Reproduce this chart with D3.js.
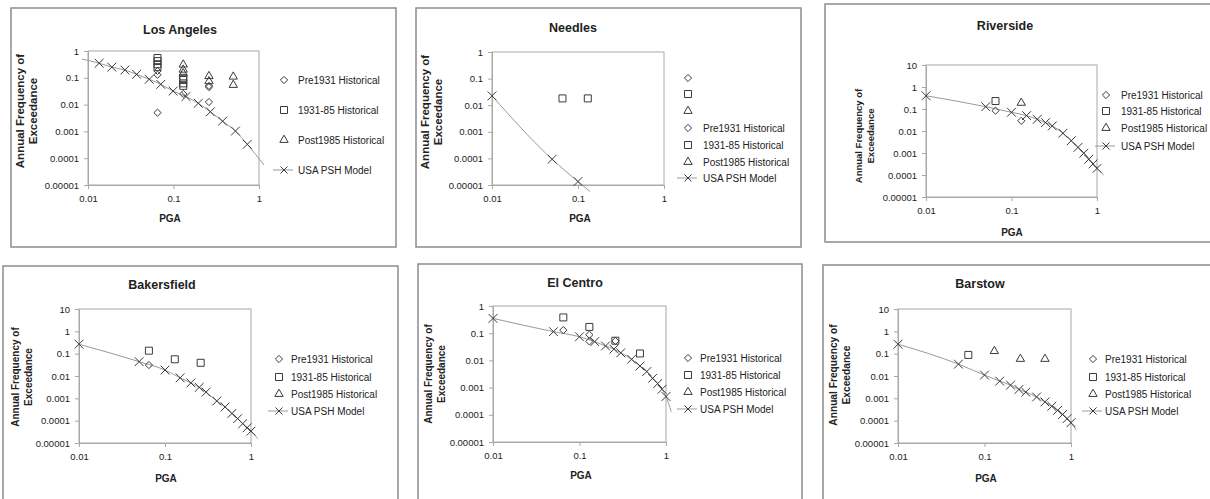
<!DOCTYPE html>
<html>
<head>
<meta charset="utf-8">
<script src="https://cdn.jsdelivr.net/npm/d3@7"></script>
<style>
  body { margin: 0; background: #fff; }
  text { font-family: "Liberation Sans", Arial, sans-serif; fill: #222; }
</style>
</head>
<body>
<svg id="chart" width="1210" height="499"></svg>
<script>
// tick values + labels (log axes)
var xTicks = [0.01, 0.1, 1];
var xTickLabels = ["0.01", "0.1", "1"];
var yTicks = [0.00001, 0.0001, 0.001, 0.01, 0.1, 1, 10];
var yTickLabels = ["0.00001", "0.0001", "0.001", "0.01", "0.1", "1", "10"];

var seriesNames = ["Pre1931 Historical", "1931-85 Historical", "Post1985 Historical", "USA PSH Model"];

// PGA grid of the PSH model (all cities but LA and Needles)
var modelPGA = [0.01, 0.05, 0.1, 0.15, 0.2, 0.25, 0.3, 0.4, 0.5, 0.6, 0.7, 0.8, 0.9, 1.0];

// Los Angeles
var laModelPGA = [0.0135, 0.019, 0.027, 0.037, 0.052, 0.071, 0.099, 0.14, 0.195, 0.27, 0.375, 0.53, 0.73];
var laModelFreq = [0.35, 0.25, 0.195, 0.135, 0.088, 0.057, 0.032, 0.02, 0.0112, 0.0054, 0.0024, 0.00103, 0.00033];
var laLineStart = [0.0085, 0.5];
var laLineEnd = [1.14, 0.000056];
var laPre1931 = [[0.065, 0.18], [0.065, 0.13], [0.065, 0.005], [0.13, 0.025], [0.26, 0.05], [0.26, 0.045], [0.26, 0.0125]];
var la1931 = [[0.065, 0.55], [0.065, 0.42], [0.065, 0.32], [0.065, 0.25], [0.13, 0.1], [0.13, 0.083], [0.13, 0.062], [0.13, 0.05]];
var laPost1985 = [[0.13, 0.31], [0.13, 0.2], [0.13, 0.147], [0.26, 0.115], [0.26, 0.074], [0.5, 0.11], [0.5, 0.054]];

// Needles
var ndModelPGA = [0.01, 0.05, 0.1];
var ndModelFreq = [0.0225, 0.000093, 0.0000135];
var ndLineEnd = [0.138, 0.0000057];
var nd1931 = [[0.066, 0.018], [0.13, 0.018]];

// Riverside
var rvModelFreq = [0.40, 0.127, 0.071, 0.050, 0.034, 0.024, 0.017, 0.0079, 0.0036, 0.0018, 0.00098, 0.00052, 0.00032, 0.0002];
var rvLineEnd = [1.2, 0.0001];
var rvPre1931 = [[0.065, 0.084], [0.13, 0.029]];
var rv1931 = [[0.065, 0.23]];
var rvPost1985 = [[0.13, 0.19]];

// Bakersfield
var bkModelFreq = [0.265, 0.044, 0.0185, 0.0083, 0.0049, 0.0031, 0.0019, 0.00076, 0.00041, 0.00021, 0.000124, 0.000073, 0.000048, 0.000034];
var bkLineEnd = [1.2, 0.0000155];
var bkPre1931 = [[0.065, 0.031]];
var bk1931 = [[0.065, 0.136], [0.13, 0.056], [0.26, 0.039]];

// El Centro
var ecModelFreq = [0.35, 0.114, 0.074, 0.049, 0.034, 0.026, 0.019, 0.011, 0.0062, 0.0039, 0.0022, 0.0014, 0.00087, 0.00047];
var ecLineEnd = [1.15, 0.00013];
var ecPre1931 = [[0.065, 0.13], [0.13, 0.088], [0.13, 0.05], [0.26, 0.052]];
var ec1931 = [[0.065, 0.38], [0.13, 0.17], [0.26, 0.053], [0.5, 0.018]];

// Barstow
var bsModelFreq = [0.265, 0.034, 0.011, 0.0059, 0.0039, 0.0025, 0.0019, 0.00115, 0.00069, 0.00044, 0.00029, 0.00019, 0.000123, 0.000081];
var bsLineEnd = [1.15, 0.000037];
var bs1931 = [[0.065, 0.088]];
var bsPost1985 = [[0.13, 0.13], [0.26, 0.058], [0.5, 0.058]];

function zipModel(pga, freq) {
  return pga.map(function(p, i) { return [p, freq[i]]; });
}

// layout of the 6 panels (box = outer frame, plot = plot area)
var panels = [
  { name: "Los Angeles", box: [11, 8, 396, 247], plot: [88, 51, 259, 185], yMax: 1,
    titleX: 180, titleY: 30, pgaX: 170, pgaY: 218,
    yt: [20, 33, 111, 11.5],
    legend: { mx: 284, tx: 298, rows: [80, 110, 140, 170] },
    pre: laPre1931, mid: la1931, post: laPost1985,
    model: zipModel(laModelPGA, laModelFreq), start: laLineStart, end: laLineEnd },
  { name: "Needles", box: [416, 8, 801, 247], plot: [492, 52, 664, 185], yMax: 1,
    titleX: 573, titleY: 28, pgaX: 580, pgaY: 218,
    yt: [425, 438, 112, 11.5],
    legend: { mx: 688, tx: 703, rows: [78, 94, 111, 128, 145, 162, 178], blanks: 3 },
    pre: [], mid: nd1931, post: [],
    model: zipModel(ndModelPGA, ndModelFreq), start: null, end: ndLineEnd },
  { name: "Riverside", box: [825, 4, 1216, 242], plot: [926, 65, 1097, 197], yMax: 10,
    titleX: 1005, titleY: 26, pgaX: 1012, pgaY: 232,
    yt: [858, 870, 136, 9.5],
    legend: { mx: 1106, tx: 1121, rows: [95, 111, 128, 146] },
    pre: rvPre1931, mid: rv1931, post: rvPost1985,
    model: zipModel(modelPGA, rvModelFreq), start: null, end: rvLineEnd },
  { name: "Bakersfield", box: [3, 266, 398, 510], plot: [79, 309, 251, 443], yMax: 10,
    titleX: 162, titleY: 285, pgaX: 166, pgaY: 478,
    yt: [15, 28, 377, 10],
    legend: { mx: 279, tx: 291, rows: [359, 377, 394, 411] },
    pre: bkPre1931, mid: bk1931, post: [],
    model: zipModel(modelPGA, bkModelFreq), start: null, end: bkLineEnd },
  { name: "El Centro", box: [418, 264, 802, 510], plot: [493, 306, 666, 442], yMax: 1,
    titleX: 575, titleY: 283, pgaX: 581, pgaY: 475,
    yt: [428, 441, 374, 10],
    legend: { mx: 688, tx: 700, rows: [358, 375, 392, 409] },
    pre: ecPre1931, mid: ec1931, post: [],
    model: zipModel(modelPGA, ecModelFreq), start: null, end: ecLineEnd },
  { name: "Barstow", box: [823, 265, 1216, 510], plot: [898, 309, 1071, 443], yMax: 10,
    titleX: 980, titleY: 284, pgaX: 986, pgaY: 478,
    yt: [833, 846, 375, 10.2],
    legend: { mx: 1093, tx: 1105, rows: [359, 377, 394, 411] },
    pre: [], mid: bs1931, post: bsPost1985,
    model: zipModel(modelPGA, bsModelFreq), start: null, end: bsLineEnd }
];

var markerColor = "#3a3a3a";
var lineColor = "#9a9a9a";
var symDiamond = d3.symbol().type(d3.symbolDiamond2).size(33);
var symSquare = d3.symbol().type(d3.symbolSquare2).size(62);
var symTriangle = d3.symbol().type(d3.symbolTriangle2).size(50);
var symTimes = d3.symbol().type(d3.symbolTimes).size(52);
var symbols = [symDiamond, symSquare, symTriangle];

var svg = d3.select("#chart");

panels.forEach(function(p) {
  var g = svg.append("g");

  // outer frame
  g.append("rect")
    .attr("x", p.box[0]).attr("y", p.box[1])
    .attr("width", p.box[2] - p.box[0]).attr("height", p.box[3] - p.box[1])
    .attr("fill", "#fff").attr("stroke", "#8c8c8c").attr("stroke-width", 1.5);

  var x = d3.scaleLog().domain([0.01, 1]).range([p.plot[0], p.plot[2]]);
  var y = d3.scaleLog().domain([0.00001, p.yMax]).range([p.plot[3], p.plot[1]]);
  var yVals = yTicks.filter(function(v) { return v <= p.yMax * 1.0001; });

  // plot area border
  g.append("rect")
    .attr("x", p.plot[0]).attr("y", p.plot[1])
    .attr("width", p.plot[2] - p.plot[0]).attr("height", p.plot[3] - p.plot[1])
    .attr("fill", "none").attr("stroke", "#a8a8a8").attr("stroke-width", 1);

  var yAxis = g.append("g")
    .attr("transform", "translate(" + p.plot[0] + ",0)")
    .call(d3.axisLeft(y).tickValues(yVals).tickSize(4).tickPadding(5)
      .tickFormat(function(d) { return yTickLabels[yTicks.indexOf(d)]; }));
  var xAxis = g.append("g")
    .attr("transform", "translate(0," + p.plot[3] + ")")
    .call(d3.axisBottom(x).tickValues(xTicks).tickSize(4).tickPadding(6)
      .tickFormat(function(d, i) { return xTickLabels[i]; }));
  [yAxis, xAxis].forEach(function(a) {
    a.select(".domain").attr("stroke", "#a8a8a8");
    a.selectAll(".tick line").attr("stroke", "#a8a8a8");
    a.selectAll(".tick text").attr("fill", "#333")
      .style("font-family", "'Liberation Sans', Arial, sans-serif").style("font-size", "9.5px");
  });

  // titles
  g.append("text").attr("x", p.titleX).attr("y", p.titleY)
    .attr("text-anchor", "middle").attr("dominant-baseline", "central")
    .style("font-size", "12.5px").style("font-weight", "bold").text(p.name);
  g.append("text").attr("x", p.pgaX).attr("y", p.pgaY)
    .attr("text-anchor", "middle").attr("dominant-baseline", "central")
    .style("font-size", "10px").style("font-weight", "bold").text("PGA");
  ["Annual Frequency of", "Exceedance"].forEach(function(t, i) {
    g.append("text")
      .attr("transform", "translate(" + p.yt[i] + "," + p.yt[2] + ") rotate(-90)")
      .attr("text-anchor", "middle").attr("dominant-baseline", "central")
      .style("font-size", p.yt[3] + "px").style("font-weight", "bold").text(t);
  });

  // model line (with its unmarked end points)
  var linePts = p.model.slice();
  if (p.start) linePts.unshift(p.start);
  if (p.end) linePts.push(p.end);
  var line = d3.line()
    .x(function(d) { return x(d[0]); })
    .y(function(d) { return y(d[1]); })
    .curve(d3.curveMonotoneX);
  g.append("path").datum(linePts)
    .attr("fill", "none").attr("stroke", lineColor).attr("stroke-width", 1)
    .attr("d", line);

  // historical markers
  [p.pre, p.mid, p.post].forEach(function(series, si) {
    g.selectAll(null).data(series).enter().append("path")
      .attr("transform", function(d) { return "translate(" + x(d[0]) + "," + y(d[1]) + ")"; })
      .attr("d", symbols[si]())
      .attr("fill", "none").attr("stroke", markerColor).attr("stroke-width", 1);
  });
  g.selectAll(null).data(p.model).enter().append("path")
    .attr("transform", function(d) { return "translate(" + x(d[0]) + "," + y(d[1]) + ")"; })
    .attr("d", symTimes())
    .attr("fill", "none").attr("stroke", markerColor).attr("stroke-width", 1);

  // legend
  var entries = [];
  var nBlank = p.legend.blanks || 0;
  for (var b = 0; b < nBlank; b++) entries.push({ s: b, label: "" });
  seriesNames.forEach(function(n, i) { entries.push({ s: i, label: n }); });
  entries.forEach(function(e, i) {
    var ry = p.legend.rows[i];
    if (e.s == 3) {
      g.append("line")
        .attr("x1", p.legend.mx - 11).attr("x2", p.legend.mx + 9)
        .attr("y1", ry).attr("y2", ry)
        .attr("stroke", lineColor).attr("stroke-width", 1);
      g.append("path").attr("transform", "translate(" + p.legend.mx + "," + ry + ")")
        .attr("d", d3.symbol().type(d3.symbolTimes).size(34)())
        .attr("fill", "none").attr("stroke", markerColor);
    } else {
      g.append("path").attr("transform", "translate(" + p.legend.mx + "," + ry + ")")
        .attr("d", symbols[e.s]())
        .attr("fill", "none").attr("stroke", markerColor);
    }
    g.append("text").attr("x", p.legend.tx).attr("y", ry)
      .attr("dominant-baseline", "central")
      .style("font-size", "10px").text(e.label);
  });
});
</script>
</body>
</html>
